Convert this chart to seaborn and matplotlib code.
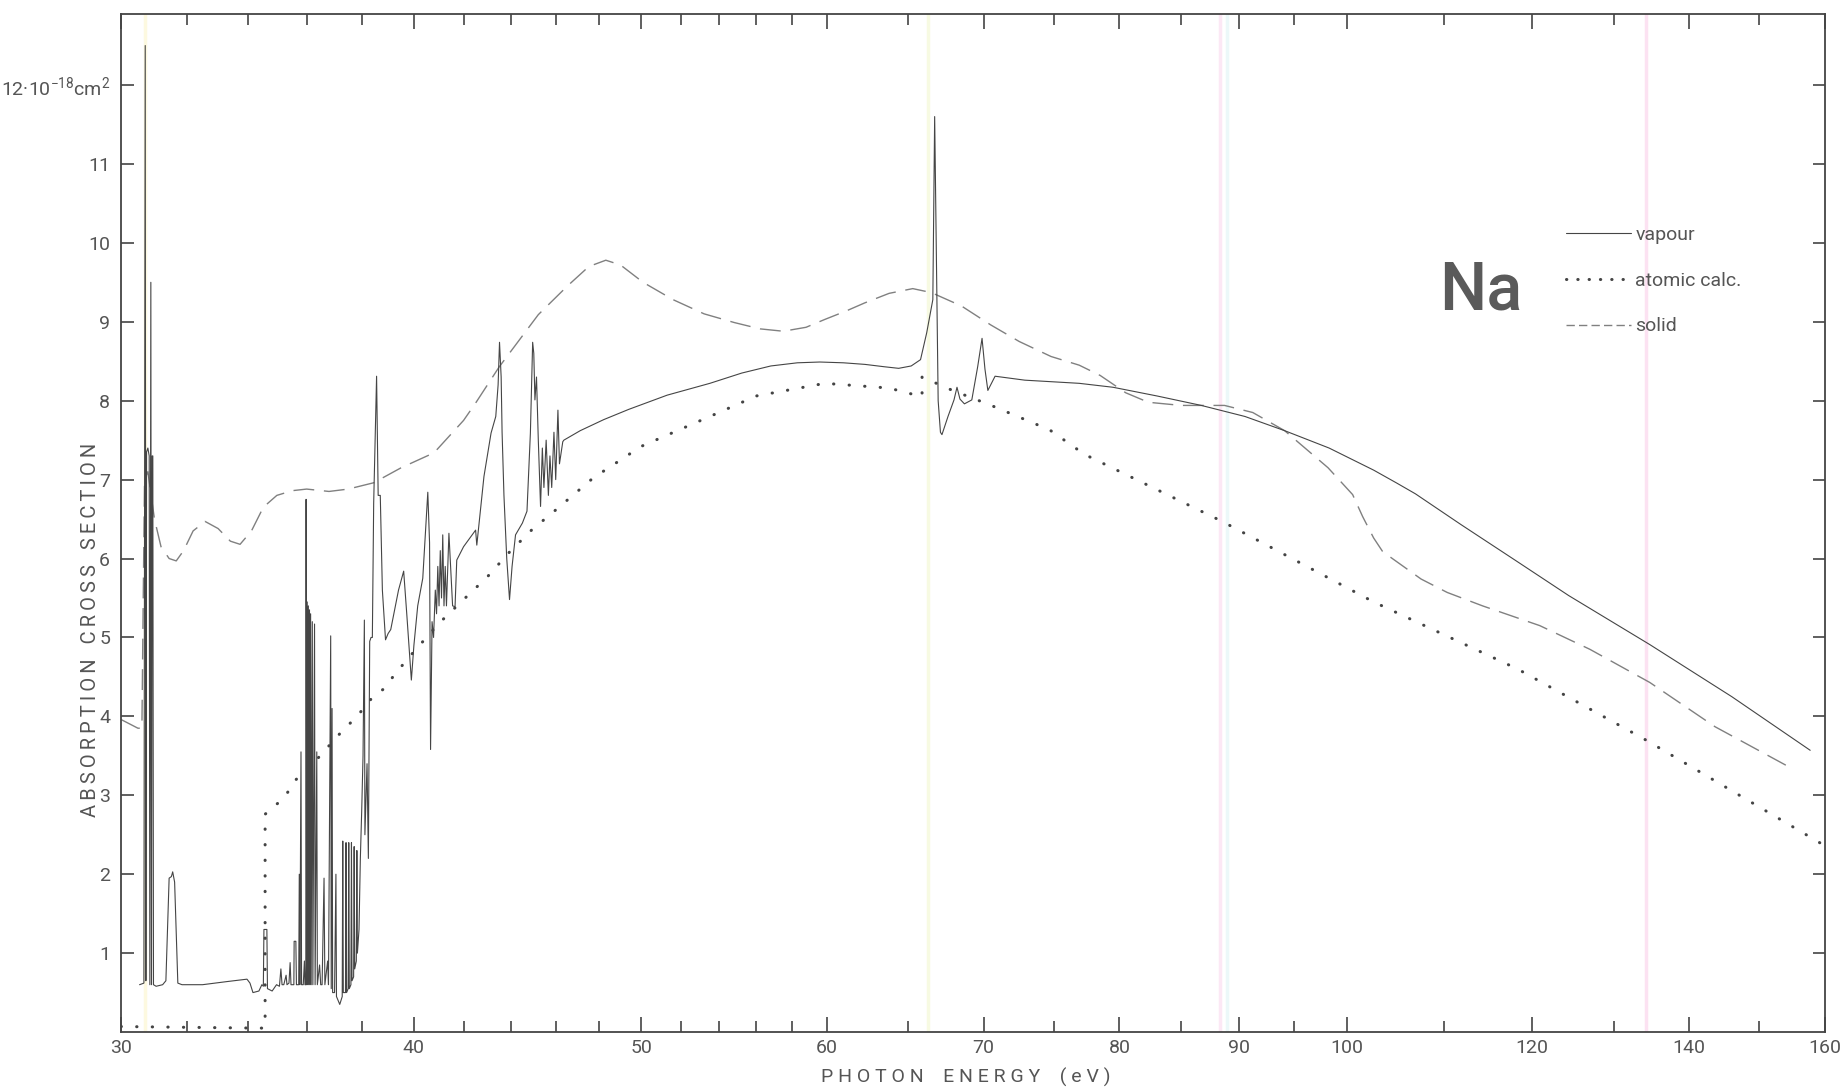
import matplotlib
matplotlib.use("Agg")
import matplotlib.pyplot as plt
from matplotlib.ticker import FixedLocator, NullFormatter
import seaborn as sns

#---
# data (photon energy in eV, cross section in 1e-18 cm2)
#---
vapour_ev = [30.55, 30.68, 30.72, 30.74, 30.76, 30.80, 30.84, 30.86, 30.89, 30.91,
             30.93, 30.95, 30.97, 31.05, 31.25, 31.35, 31.45, 31.52, 31.56, 31.62,
             31.72, 31.85, 32.5, 33.3, 33.95, 34.05, 34.15, 34.35, 34.45, 34.5,
             34.52, 34.62, 34.64, 34.8, 34.95, 35.05, 35.1, 35.14, 35.2, 35.28,
             35.31, 35.38, 35.42, 35.45, 35.55, 35.56, 35.62, 35.64, 35.72, 35.74,
             35.76, 35.80, 35.82, 35.88, 35.92, 35.94, 35.97, 35.98, 36.00, 36.02,
             36.04, 36.06, 36.08, 36.10, 36.12, 36.14, 36.16, 36.20, 36.22, 36.28,
             36.30, 36.36, 36.38, 36.46, 36.50, 36.55, 36.62, 36.65, 36.75, 36.78,
             36.86, 36.88, 36.91, 36.93, 37.00, 37.05, 37.07, 37.19, 37.28, 37.30,
             37.32, 37.40, 37.42, 37.44, 37.50, 37.52, 37.54, 37.60, 37.62, 37.64,
             37.70, 37.72, 37.74, 37.80, 37.82, 37.84, 37.90, 37.95, 38.00, 38.05,
             38.10, 38.12, 38.20, 38.25, 38.30, 38.35, 38.40, 38.45, 38.56, 38.62,
             38.70, 38.78, 38.90, 39.00, 39.10, 39.40, 39.60, 39.72, 39.90, 40.00,
             40.15, 40.35, 40.55, 40.62, 40.66, 40.72, 40.78, 40.85, 40.90, 40.95,
             41.00, 41.05, 41.10, 41.15, 41.20, 41.25, 41.30, 41.40, 41.55, 41.65,
             41.72, 42.00, 42.50, 42.55, 42.85, 43.15, 43.35, 43.45, 43.51, 43.58,
             43.62, 43.70, 43.82, 43.94, 44.05, 44.20, 44.50, 44.70, 44.85, 44.95,
             45.00, 45.05, 45.12, 45.20, 45.30, 45.38, 45.45, 45.55, 45.65, 45.72,
             45.80, 45.90, 45.98, 46.08, 46.15, 46.30, 46.35, 47.1, 48.2, 49.4,
             51.3, 53.5, 55.2, 56.8, 58.3, 59.6, 61.0, 62.3, 63.5, 64.4,
             65.2, 65.8, 66.2, 66.6, 66.72, 66.85, 66.95, 67.1, 67.2, 67.6,
             68.0, 68.2, 68.4, 68.7, 69.2, 69.6, 69.9, 70.1, 70.3, 70.8,
             72.9, 76.9, 79.5, 83.0, 86.7, 90.5, 94.1, 98.3, 102.7, 105.0,
             107.0, 111.9, 118.0, 124.4, 134.7, 146.0, 157.7]
vapour_xs = [0.60, 0.62, 12.5, 0.65, 7.35, 7.40, 7.30, 0.60, 9.50, 0.60,
             7.30, 7.30, 0.60, 0.58, 0.60, 0.65, 1.95, 1.97, 2.03, 1.90,
             0.62, 0.60, 0.60, 0.64, 0.67, 0.62, 0.50, 0.52, 0.60, 0.58,
             1.30, 1.30, 0.55, 0.52, 0.60, 0.58, 0.80, 0.60, 0.60, 0.72,
             0.60, 0.62, 0.88, 0.60, 0.60, 1.15, 1.15, 0.60, 0.60, 2.00,
             0.60, 3.55, 0.60, 0.60, 0.90, 0.60, 0.60, 6.75, 0.60, 5.45,
             0.60, 5.40, 0.60, 5.35, 0.60, 5.30, 0.60, 5.20, 0.60, 5.17,
             0.60, 3.55, 0.60, 0.85, 0.60, 0.60, 1.95, 0.60, 0.90, 0.60,
             5.02, 0.55, 4.10, 0.50, 0.50, 2.00, 0.45, 0.35, 0.45, 2.42,
             0.50, 0.50, 2.40, 0.50, 0.55, 2.40, 0.55, 0.60, 2.40, 0.65,
             0.70, 2.35, 0.80, 0.90, 2.30, 1.00, 1.30, 2.20, 2.80, 3.50,
             5.22, 2.50, 3.40, 2.20, 4.95, 5.00, 5.00, 6.70, 8.31, 6.80,
             6.80, 5.60, 4.97, 5.05, 5.10, 5.60, 5.84, 5.30, 4.46, 4.90,
             5.40, 5.75, 6.84, 6.20, 3.58, 5.20, 5.00, 5.60, 5.30, 5.90,
             5.40, 6.10, 5.50, 6.30, 5.40, 5.90, 5.40, 6.32, 5.40, 5.39,
             5.98, 6.15, 6.36, 6.17, 7.04, 7.59, 7.80, 8.20, 8.74, 8.30,
             7.60, 6.80, 6.00, 5.48, 5.90, 6.30, 6.45, 6.60, 7.59, 8.74,
             8.60, 8.01, 8.30, 7.50, 6.66, 7.40, 6.90, 7.50, 6.80, 7.30,
             6.90, 7.60, 7.00, 7.88, 7.20, 7.48, 7.50, 7.62, 7.76, 7.89,
             8.07, 8.22, 8.35, 8.44, 8.48, 8.49, 8.48, 8.46, 8.43, 8.41,
             8.44, 8.52, 8.86, 9.28, 11.6, 9.50, 8.00, 7.60, 7.57, 7.80,
             8.01, 8.17, 8.02, 7.96, 8.01, 8.43, 8.79, 8.40, 8.13, 8.31,
             8.26, 8.22, 8.17, 8.06, 7.94, 7.80, 7.62, 7.40, 7.12, 6.96,
             6.82, 6.43, 5.98, 5.53, 4.91, 4.25, 3.57]

atomic_ev = [30.0, 32.0, 34.3, 34.56, 34.56, 34.83, 35.2, 35.6, 36.35, 37.19,
             37.85, 38.4, 38.8, 39.4, 40.0, 41.0, 42.0, 43.0, 43.9, 44.9,
             46.0, 47.7, 50.0, 53.5, 56.0, 59.9, 63.8, 65.9, 65.9, 67.9,
             70.4, 74.7, 77.3, 88.5, 102.7, 118.3, 134.2, 160.0]
atomic_xs = [0.07, 0.06, 0.05, 0.05, 2.76, 2.85, 2.96, 3.19, 3.45, 3.78,
             4.01, 4.24, 4.34, 4.59, 4.82, 5.18, 5.48, 5.77, 6.07, 6.36,
             6.62, 7.02, 7.42, 7.80, 8.06, 8.22, 8.16, 8.05, 8.30, 8.13,
             7.95, 7.63, 7.32, 6.47, 5.45, 4.60, 3.70, 2.36]

solid_ev = [30.0, 30.5, 30.62, 30.66, 30.70, 30.8, 31.0, 31.2, 31.45, 31.67,
            31.9, 32.2, 32.58, 33.0, 33.4, 33.72, 34.1, 34.5, 34.96, 35.5,
            36.0, 36.8, 37.5, 38.45, 39.5, 40.8, 42.0, 42.5, 43.5, 45.2,
            46.5, 47.5, 48.3, 49.0, 50.1, 51.6, 53.2, 54.8, 56.2, 57.5,
            58.8, 59.9, 61.2, 62.3, 63.8, 65.3, 66.5, 68.5, 70.5, 72.5,
            74.8, 76.9, 78.5, 80.5, 82.3, 85.0, 88.7, 91.2, 94.1, 96.0, 98.2,
            100.6, 101.6, 102.7, 103.6, 104.6, 107.6, 110.4, 114.3, 120.9, 127.0,
            134.7, 143.6, 154.0]
solid_xs = [3.96, 3.85, 3.85, 5.50, 7.00, 7.10, 6.50, 6.15, 6.00, 5.97,
            6.10, 6.35, 6.47, 6.38, 6.22, 6.18, 6.35, 6.65, 6.80, 6.86,
            6.88, 6.85, 6.88, 6.96, 7.15, 7.34, 7.75, 7.97, 8.43, 9.09,
            9.45, 9.70, 9.78, 9.72, 9.50, 9.28, 9.10, 8.99, 8.91, 8.88,
            8.93, 9.03, 9.14, 9.24, 9.36, 9.42, 9.37, 9.20, 8.96, 8.75,
            8.56, 8.45, 8.32, 8.10, 7.98, 7.94, 7.94, 7.85, 7.62, 7.40, 7.15,
            6.81, 6.53, 6.26, 6.09, 6.00, 5.74, 5.57, 5.40, 5.15, 4.85,
            4.43, 3.87, 3.38]

x_major = [30, 40, 50, 60, 70, 80, 90, 100, 120, 140, 160]
x_minor = [32, 34, 36, 38, 42, 44, 46, 48, 52, 54, 56, 58, 65, 75, 85, 95, 110, 130, 150]
y_major = [1, 2, 3, 4, 5, 6, 7, 8, 9, 10, 11, 12]
y_labels = ['1', '2', '3', '4', '5', '6', '7', '8', '9', '10', '11',
            '12\u00b710$^{-18}$cm$^{2}$']

# faint coloured streaks from the scan
streak_ev = [30.7, 66.3, 88.3, 88.9, 134.2]
streak_col = ['#fdf9e0', '#f7fae2', '#fce8f5', '#ecf8f9', '#fce2f2']

#---
# plotting
#---
sns.set_style('ticks')
plt.rcParams['font.family'] = ['Roboto', 'DejaVu Sans']
plt.rcParams['mathtext.fontset'] = 'custom'
plt.rcParams['mathtext.rm'] = 'Roboto'
plt.rcParams['mathtext.it'] = 'Roboto:italic'
plt.rcParams['mathtext.bf'] = 'Roboto:bold'
txt = '#555555'
ink = '#454545'

fig, ax = plt.subplots(figsize=(18.43, 10.92), dpi=100)
fig.subplots_adjust(left=0.0657, right=0.9902, bottom=0.0549, top=0.9872)

for e, c in zip(streak_ev, streak_col):
    ax.axvline(e, color=c, lw=2.5, zorder=0)

sns.lineplot(x=solid_ev, y=solid_xs, ax=ax, sort=False, estimator=None,
             color='#808080', lw=1.0, linestyle=(0, (15, 7)), label='solid')
sns.lineplot(x=atomic_ev, y=atomic_xs, ax=ax, sort=False, estimator=None,
             color='#444444', lw=2.2, linestyle=(0, (0.1, 5.0)),
             dash_capstyle='round', label='atomic calc.')
sns.lineplot(x=vapour_ev, y=vapour_xs, ax=ax, sort=False, estimator=None,
             color=ink, lw=0.8, label='vapour')

ax.set_xscale('log')
ax.set_xlim(30, 160)
ax.set_ylim(0, 12.9)

ax.xaxis.set_major_locator(FixedLocator(x_major))
ax.xaxis.set_minor_locator(FixedLocator(x_minor))
ax.xaxis.set_minor_formatter(NullFormatter())
ax.set_xticks(x_major, [str(v) for v in x_major])
ax.set_yticks(y_major, y_labels)

ax.tick_params(which='both', direction='in', top=True, right=True,
               colors='#444444', labelcolor=txt, labelsize=14, width=1.2)
ax.tick_params(axis='x', which='major', length=11, pad=5)
ax.tick_params(axis='x', which='minor', length=8)
ax.tick_params(axis='y', which='major', length=9, pad=8)
for s in ax.spines.values():
    s.set_color('#444444')
    s.set_linewidth(1.3)

ax.set_xlabel('P H O T O N    E N E R G Y    ( e V )', fontsize=14, color=txt, va='center')
ax.xaxis.set_label_coords(0.496, -0.045)
ax.set_ylabel('\u2009'.join('ABSORPTION') + '   ' + '\u2009'.join('CROSS') + '   '
              + '\u2009'.join('SECTION'), fontsize=14.5, color=txt, va='center')
ax.yaxis.set_label_coords(-0.018, 0.395)

ax.text(0.798, 0.710, 'Na', transform=ax.transAxes, ha='center', va='baseline',
        fontsize=48, fontweight='medium', color='#5a5a5a')

h, l = ax.get_legend_handles_labels()
order = [l.index('vapour'), l.index('atomic calc.'), l.index('solid')]
leg = ax.legend([h[i] for i in order], [l[i] for i in order], frameon=False,
                loc='center left', bbox_to_anchor=(0.838, 0.738), fontsize=14,
                handlelength=3.3, handletextpad=0.25, labelspacing=1.42, labelcolor=txt)
leg.get_lines()[1].set_linestyle((0, (0.1, 3.6)))
leg.get_lines()[2].set_linestyle((0, (6, 3)))

fig.savefig('out.png', dpi=100)
plt.close(fig)
